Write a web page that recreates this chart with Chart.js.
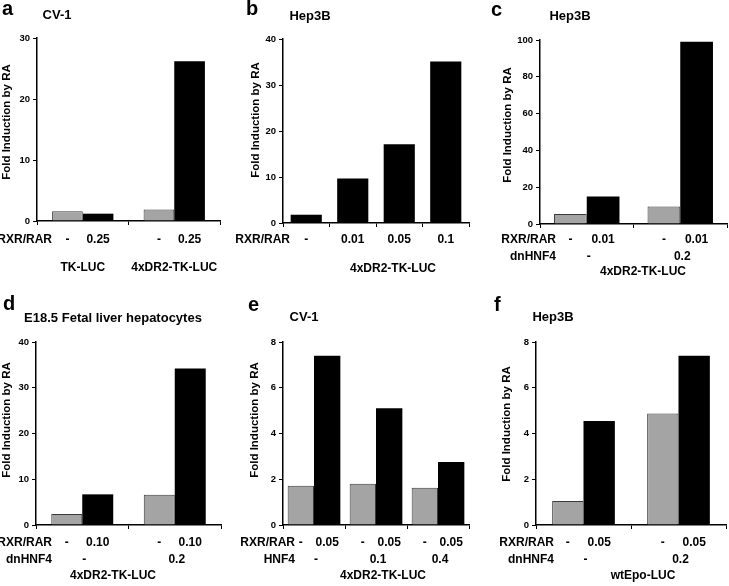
<!DOCTYPE html>
<html>
<head>
<meta charset="utf-8">
<script src="https://cdn.jsdelivr.net/npm/chart.js@4.4.1/dist/chart.umd.min.js"></script>
<style>
  html, body { margin: 0; padding: 0; background: #fff; }
  #fig { position: relative; width: 729px; height: 586px; overflow: hidden; }
  #fig canvas { position: absolute; }
</style>
</head>
<body>
<div id="fig"></div>
<script>
// a - CV-1
const aGroups = ["TK-LUC", "4xDR2-TK-LUC"];
const aGray = [1.6, 1.9];
const aBlack = [1.2, 26.2];
const aRxr = [["-", "0.25"], ["-", "0.25"]];
const aTicks = [0, 10, 20, 30];

// b - Hep3B dose
const bDoses = ["-", "0.01", "0.05", "0.1"];
const bBlack = [1.8, 9.7, 17.1, 35.1];
const bTicks = [0, 10, 20, 30, 40];

// c - Hep3B + dnHNF4
const cHnf = ["-", "0.2"];
const cGray = [5.5, 9.5];
const cBlack = [15, 99];
const cRxr = [["-", "0.01"], ["-", "0.01"]];
const cTicks = [0, 20, 40, 60, 80, 100];

// d - fetal liver hepatocytes
const dHnf = ["-", "0.2"];
const dGray = [2.4, 6.6];
const dBlack = [6.7, 34.2];
const dRxr = [["-", "0.10"], ["-", "0.10"]];
const dTicks = [0, 10, 20, 30, 40];

// e - CV-1 + HNF4
const eHnf = ["-", "0.1", "0.4"];
const eGray = [1.72, 1.8, 1.63];
const eBlack = [7.4, 5.1, 2.75];
const eRxr = [["-", "0.05"], ["-", "0.05"], ["-", "0.05"]];
const eTicks = [0, 2, 4, 6, 8];

// f - Hep3B wtEpo
const fHnf = ["-", "0.2"];
const fGray = [1.05, 4.87];
const fBlack = [4.55, 7.4];
const fRxr = [["-", "0.05"], ["-", "0.05"]];
const fTicks = [0, 2, 4, 6, 8];

const FONT = '"Liberation Sans", Arial, Helvetica, sans-serif';
const GRAY = "#a4a4a4";
const fig = document.getElementById("fig");

// page layout of each panel (canvas box + plot box)
const panels = [
  { letter: "a", title: "CV-1", cats: aGroups, gray: aGray, black: aBlack, rxr: aRxr, ticks: aTicks,
    cx: 0, cy: 0, cw: 243, ch: 293, plot: { l: 37, t: 38, b: 221, r: 220 }, cp: 0.67,
    letterX: 2, letterY: 15, titleX: 57, titleY: 15, yt: [7, 122],
    rowR: 52, row1: 240, footY: 268, footPerGroup: aGroups },
  { letter: "b", title: "Hep3B", cats: bDoses, black: bBlack, rxr: bDoses.map(s => [s]), ticks: bTicks,
    cx: 229, cy: 0, cw: 257, ch: 293, plot: { l: 283, t: 39, b: 223, r: 469 }, cp: 1, bp: 0.67,
    letterX: 246, letterY: 15, titleX: 310, titleY: 16, yt: [256, 120],
    rowR: 290, row1: 240, footY: 269, foot: "4xDR2-TK-LUC", footX: 393 },
  { letter: "c", title: "Hep3B", cats: cHnf, gray: cGray, black: cBlack, rxr: cRxr, ticks: cTicks,
    cx: 472, cy: 0, cw: 257, ch: 293, plot: { l: 540, t: 40, b: 224, r: 727 }, cp: 0.7,
    letterX: 491, letterY: 16, titleX: 570, titleY: 16, yt: [508, 125],
    rowR: 556, row1: 240, row2: 257, hnfName: "dnHNF4", hnf: cHnf, footY: 272, foot: "4xDR2-TK-LUC", footX: 643 },
  { letter: "d", title: "E18.5 Fetal liver hepatocytes", cats: dHnf, gray: dGray, black: dBlack, rxr: dRxr, ticks: dTicks,
    cx: 0, cy: 293, cw: 243, ch: 293, plot: { l: 36, t: 342, b: 525, r: 221 }, cp: 0.67,
    letterX: 3, letterY: 310, titleX: 113, titleY: 318, yt: [7, 420],
    rowR: 52, row1: 543, row2: 560, hnfName: "dnHNF4", hnf: dHnf, footY: 576, foot: "4xDR2-TK-LUC", footX: 113 },
  { letter: "e", title: "CV-1", cats: eHnf, gray: eGray, black: eBlack, rxr: eRxr, ticks: eTicks,
    cx: 229, cy: 293, cw: 257, ch: 293, plot: { l: 283, t: 342, b: 525, r: 469 }, cp: 0.85,
    letterX: 248, letterY: 311, titleX: 304, titleY: 317, yt: [255, 420],
    rowR: 295, row1: 543, row2: 560, hnfName: "HNF4", hnf: eHnf, footY: 576, foot: "4xDR2-TK-LUC", footX: 383 },
  { letter: "f", title: "Hep3B", cats: fHnf, gray: fGray, black: fBlack, rxr: fRxr, ticks: fTicks,
    cx: 472, cy: 293, cw: 257, ch: 293, plot: { l: 536, t: 342, b: 525, r: 726 }, cp: 0.66,
    letterX: 494, letterY: 311, titleX: 553, titleY: 317, yt: [507, 424],
    rowR: 554, row1: 543, row2: 560, hnfName: "dnHNF4", hnf: fHnf, footY: 576, foot: "wtEpo-LUC", footX: 643 }
];

function txt(ctx, s, x, y, size, align, base) {
  ctx.font = `bold ${size}px ${FONT}`;
  ctx.textAlign = align || "center";
  ctx.textBaseline = base || "middle";
  ctx.fillStyle = "#000";
  ctx.fillText(s, x, y);
}

function makePanel(p) {
  const cv = document.createElement("canvas");
  cv.width = p.cw; cv.height = p.ch;
  cv.style.left = p.cx + "px"; cv.style.top = p.cy + "px";
  cv.style.width = p.cw + "px"; cv.style.height = p.ch + "px";
  fig.appendChild(cv);

  const datasets = [];
  if (p.gray) datasets.push({ data: p.gray, backgroundColor: GRAY, borderColor: "#3a3a3a", borderWidth: 1,
    categoryPercentage: p.cp, barPercentage: 1 });
  datasets.push({ data: p.black, backgroundColor: "#000", borderWidth: 0,
    categoryPercentage: p.cp, barPercentage: p.bp || 1 });

  const labelsPlugin = {
    id: "labels" + p.letter,
    afterDraw(chart) {
      const ctx = chart.ctx;
      ctx.save();
      ctx.translate(-p.cx, -p.cy); // page coordinates from here on
      txt(ctx, p.letter, p.letterX, p.letterY, 20, "left", "alphabetic");
      txt(ctx, p.title, p.titleX, p.titleY, 13);
      ctx.save();
      ctx.translate(p.yt[0], p.yt[1]);
      ctx.rotate(-Math.PI / 2);
      txt(ctx, "Fold Induction by RA", 0, 0, 11.5);
      ctx.restore();

      const metas = chart.data.datasets.map((d, i) => chart.getDatasetMeta(i));
      txt(ctx, "RXR/RAR", p.rowR, p.row1, 12, "right");
      p.rxr.forEach((grp, gi) => grp.forEach((s, di) => {
        txt(ctx, s, metas[di].data[gi].x + p.cx, p.row1, 12);
      }));
      const xs = chart.scales.x;
      if (p.hnf) {
        txt(ctx, p.hnfName, p.rowR, p.row2, 12, "right");
        p.hnf.forEach((s, gi) => txt(ctx, s, xs.getPixelForValue(gi) + p.cx + 2, p.row2, 12));
      }
      if (p.footPerGroup) {
        p.footPerGroup.forEach((s, gi) => txt(ctx, s, xs.getPixelForValue(gi) + p.cx, p.footY, 12));
      } else {
        txt(ctx, p.foot, p.footX, p.footY, 12);
      }
      ctx.restore();
    }
  };

  new Chart(cv.getContext("2d"), {
    type: "bar",
    data: { labels: p.cats, datasets },
    options: {
      responsive: false,
      animation: false,
      devicePixelRatio: 1,
      layout: { padding: { left: 0, bottom: 0, top: p.plot.t - p.cy, right: p.cx + p.cw - p.plot.r } },
      plugins: { legend: { display: false }, tooltip: { enabled: false } },
      scales: {
        x: {
          ticks: { display: false },
          grid: { drawOnChartArea: false, tickLength: 4, color: "#000", lineWidth: 1 },
          border: { color: "#000", width: 1.5 },
          afterFit: s => { s.height = p.cy + p.ch - p.plot.b; }
        },
        y: {
          min: 0,
          max: p.ticks[p.ticks.length - 1],
          ticks: { stepSize: p.ticks[1] - p.ticks[0], color: "#000", padding: 3,
            font: { family: FONT, size: 9.5, weight: "bold" } },
          grid: { drawOnChartArea: false, tickLength: 4, color: "#000", lineWidth: 1 },
          border: { color: "#000", width: 1.5 },
          afterFit: s => { s.width = p.plot.l - p.cx; }
        }
      }
    },
    plugins: [labelsPlugin]
  });
}

panels.forEach(makePanel);
</script>
</body>
</html>
